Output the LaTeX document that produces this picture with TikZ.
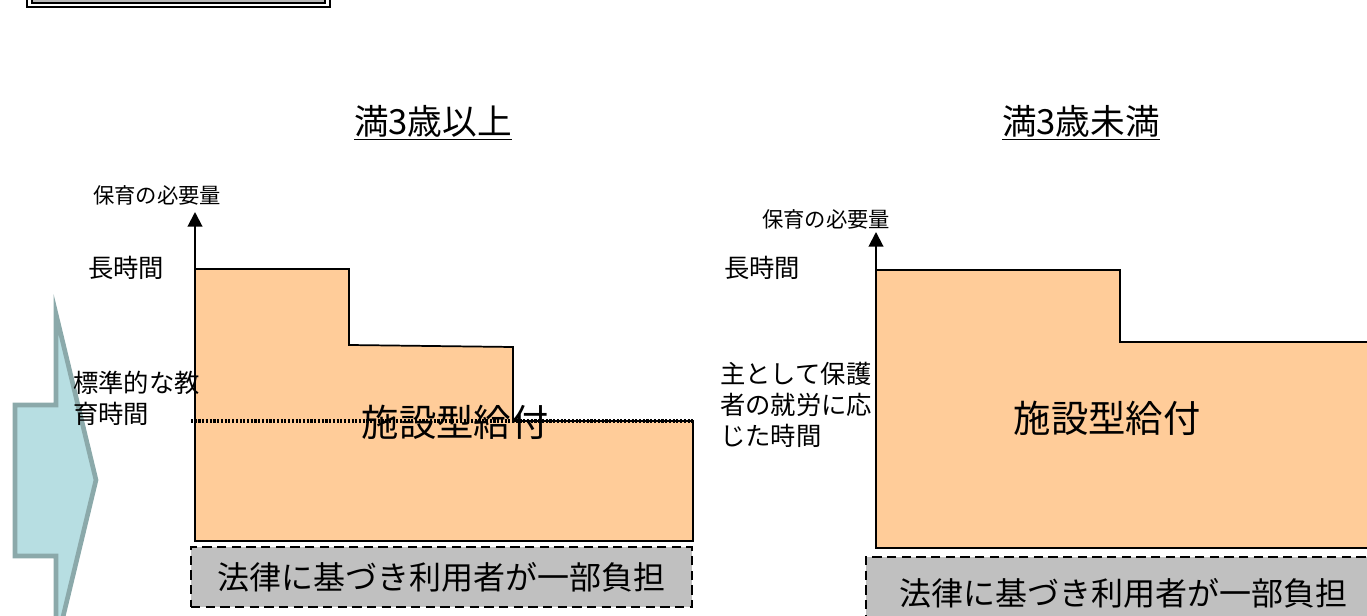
\documentclass[tikz,border=0pt]{standalone}
\usepackage{fontspec}
\setmainfont{Noto Sans CJK JP}
\usepackage{xcolor}
\usepackage{tikz}
\usetikzlibrary{arrows.meta}
\usetikzlibrary{positioning}

\definecolor{apricot}{RGB}{255,204,153}
\definecolor{paleteal}{RGB}{183,222,226}
\definecolor{tealgray}{RGB}{139,169,170}
\definecolor{burdengray}{RGB}{192,192,192}

\begin{document}
\begin{tikzpicture}[x=0.75pt, y=-0.75pt, inner sep=0pt]
    \tikzstyle{title}=[font=\fontsize{26}{30}\selectfont]
    \tikzstyle{axislab}=[font=\fontsize{16}{19}\selectfont]
    \tikzstyle{levellab}=[font=\fontsize{19}{23.5}\selectfont, align=left]
    \tikzstyle{benefit}=[font=\fontsize{28}{32}\selectfont]
    \tikzstyle{burden}=[draw, line width=1.5pt, dash pattern=on 7pt off 4pt,
      fill=burdengray, font=\fontsize{24}{28}\selectfont]
    \tikzstyle{yaxis}=[line width=1.5pt, -{Triangle[width=11pt,length=11pt]}]
    \tikzstyle{stepline}=[line width=1.3pt, fill=apricot, line join=miter]
    \tikzstyle{stdline}=[line width=2.4pt, line cap=butt, dash pattern=on 1.6pt off 1.2pt]
    \useasboundingbox (0,0) rectangle (1367,616);
    \clip (0,0) rectangle (1367,616);

    % cut-off heading box
    \draw[line width=1.8pt] (27,-30) rectangle (330,7);
    \draw[line width=1pt, fill=gray!55] (32,-30) rectangle (325,3);

    % big arrow on the left
    \draw[line width=3.5pt, draw=tealgray, fill=paleteal, line join=miter]
      (15,405) -- (56,405) -- (56,314) -- (96,480) -- (56,646) -- (56,556)
      -- (15,556) -- cycle;

    % age 3 and over
    \node[title] (ageUp) at (433,123) {\underline{満3歳以上}};
    \filldraw[stepline] (195,269) -- (349,269) -- (349,345) -- (513,347)
      -- (513,421) -- (693,421) -- (693,541) -- (195,541) -- cycle;
    \coordinate (stdL) at (191,421);
    \coordinate (stdR) at (693,421);
    \draw[stdline] (stdL) -- (stdR);
    \coordinate (ybaseL) at (195,541);
    \coordinate (ytopL) at (195,212);
    \draw[yaxis] (ybaseL) -- (ytopL);
    \node[axislab] (needL) at (157,195) {保育の必要量};
    \node[levellab] (longL) at (126,268) {長時間};
    \node[levellab, anchor=west] (stdlab) at (73,398) {標準的な教\\育時間};
    \node[benefit] (benefitL) at (455,422) {施設型給付};
    \node[burden, minimum width=375.75pt, minimum height=45pt] (burdenL)
      at (441.5,577) {法律に基づき利用者が一部負担};

    % under age 3
    \node[title] (ageDown) at (1081,123) {\underline{満3歳未満}};
    \filldraw[stepline] (876,270) -- (1120,270) -- (1120,342) -- (1400,342)
      -- (1400,548) -- (876,548) -- cycle;
    \coordinate (ybaseR) at (876,548);
    \coordinate (ytopR) at (876,232);
    \draw[yaxis] (ybaseR) -- (ytopR);
    \node[axislab] (needR) at (826,219) {保育の必要量};
    \node[levellab] (longR) at (762,268) {長時間};
    \node[levellab, anchor=west] (worklab) at (720,405)
      {主として保護\\者の就労に応\\じた時間};
    \node[benefit] (benefitR) at (1107,418) {施設型給付};
    \node[burden, minimum width=385.5pt, minimum height=54.75pt] (burdenR)
      at (1123,593.5) {法律に基づき利用者が一部負担};
\end{tikzpicture}
\end{document}
